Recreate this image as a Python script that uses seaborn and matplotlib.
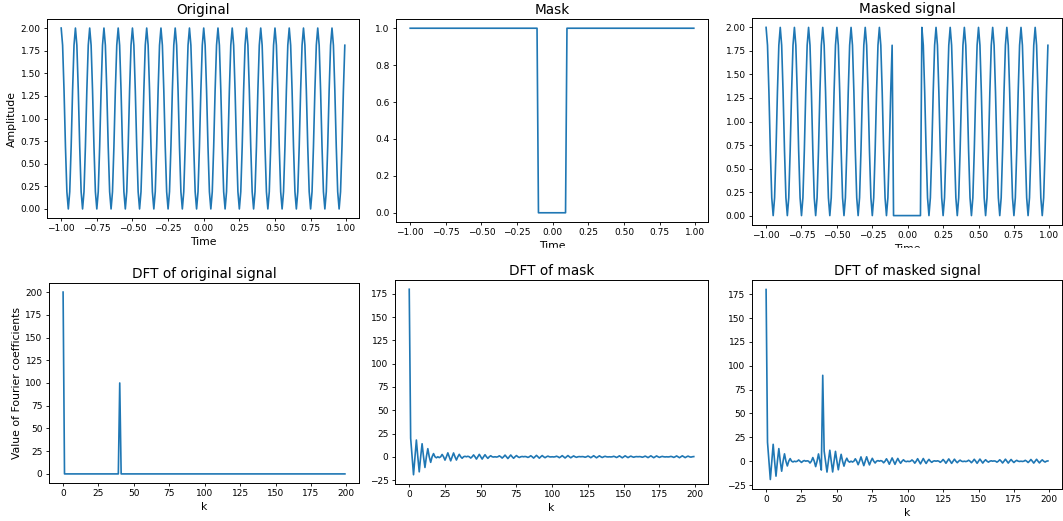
import numpy as np
import matplotlib
matplotlib.use("Agg")
import matplotlib.pyplot as plt
from matplotlib.patches import Rectangle
import seaborn as sns

# sample times and DFT index
time = np.round(np.arange(-1.0, 1.0, 0.01), 2)
k = np.arange(200)

# one period of the signal (10 samples)
cycle = [2.0, 1.81, 1.31, 0.69, 0.19, 0.0, 0.19, 0.69, 1.31, 1.81]
original = cycle * 20
mask = [1.0] * 90 + [0.0] * 20 + [1.0] * 90
masked = cycle * 9 + [0.0] * 20 + cycle * 9

dft_original = [200.0] + [0.0] * 39 + [100.0] + [0.0] * 159

dft_mask = [
    180, 19.9, 0, -19.3, 0, 18.0, 0, -16.2, 0, 14.0,
    0, -11.5, 0, 8.7, 0, -6.0, 0, 3.4, 0, -1.1,
    0, -0.9, 0, 2.5, 0, -3.6, 0, 4.2, 0, -4.4,
    0, 4.1, 0, -3.5, 0, 2.6, 0, -1.6, 0, 0.5,
    0, 0.5, 0, -1.4, 0, 2.0, 0, -2.5, 0, 2.6,
    0, -2.5, 0, 2.2, 0, -1.7, 0, 1.1, 0, -0.3,
    0, -0.3, 0, 1.0, 0, -1.4, 0, 1.8, 0, -1.9,
    0, 1.9, 0, -1.6, 0, 1.3, 0, -0.8, 0, 0.3,
    0, 0.3, 0, -0.7, 0, 1.1, 0, -1.4, 0, 1.5,
    0, -1.5, 0, 1.3, 0, -1.0, 0, 0.7, 0, -0.2,
    0, -0.2, 0, 0.6, 0, -1.0, 0, 1.2, 0, -1.3,
    0, 1.3, 0, -1.1, 0, 0.9, 0, -0.6, 0, 0.2,
    0, 0.2, 0, -0.5, 0, 0.8, 0, -1.0, 0, 1.1,
    0, -1.1, 0, 1.0, 0, -0.8, 0, 0.5, 0, -0.2,
    0, -0.2, 0, 0.5, 0, -0.8, 0, 1.0, 0, -1.1,
    0, 1.0, 0, -0.9, 0, 0.7, 0, -0.5, 0, 0.2,
    0, 0.2, 0, -0.5, 0, 0.7, 0, -0.9, 0, 1.0,
    0, -1.0, 0, 0.9, 0, -0.7, 0, 0.4, 0, -0.2,
    0, -0.2, 0, 0.4, 0, -0.7, 0, 0.9, 0, -1.0,
    0, 1.0, 0, -0.9, 0, 0.7, 0, -0.4, 0, 0.2,
]

dft_masked = [
    180, 19.9, 0, -19.2, 0, 17.7, 0, -15.7, 0, 13.2,
    0, -10.5, 0, 7.7, 0, -5.0, 0, 2.7, 0, -0.8,
    0, -0.5, 0, 1.3, 0, -1.3, 0, 0.7, 0, 0.4,
    0, -1.9, 0, 3.8, 0, -5.7, 0, 7.6, 0, -9.3,
    90, 10.6, 0, -11.4, 0, 11.5, 0, -11.3, 0, 10.3,
    0, -9.0, 0, 7.2, 0, -5.2, 0, 3.1, 0, -1.0,
    0, -0.9, 0, 2.5, 0, -3.7, 0, 4.5, 0, -4.7,
    0, 4.6, 0, -3.9, 0, 3.0, 0, -1.9, 0, 0.6,
    0, 0.6, 0, -1.7, 0, 2.5, 0, -3.2, 0, 3.4,
    0, -3.3, 0, 2.9, 0, -2.2, 0, 1.5, 0, -0.5,
    0, -0.4, 0, 1.3, 0, -2.1, 0, 2.6, 0, -2.8,
    0, 2.8, 0, -2.4, 0, 1.9, 0, -1.2, 0, 0.4,
    0, 0.4, 0, -1.2, 0, 1.8, 0, -2.2, 0, 2.4,
    0, -2.3, 0, 2.1, 0, -1.6, 0, 1.1, 0, -0.4,
    0, -0.4, 0, 1.0, 0, -1.6, 0, 2.0, 0, -2.2,
    0, 2.2, 0, -2.0, 0, 1.5, 0, -1.0, 0, 0.4,
    0, 0.3, 0, -1.0, 0, 1.5, 0, -1.9, 0, 2.1,
    0, -2.0, 0, 1.8, 0, -1.4, 0, 0.9, 0, -0.3,
    0, -0.3, 0, 0.9, 0, -1.4, 0, 1.8, 0, -2.0,
    0, 2.0, 0, -1.8, 0, 1.4, 0, -0.9, 0, 0.3,
]

plt.rcParams.update({
    "xtick.labelsize": 6.5,
    "ytick.labelsize": 6.5,
    "xtick.major.size": 2.4,
    "ytick.major.size": 2.4,
    "xtick.major.width": 0.6,
    "ytick.major.width": 0.6,
    "xtick.major.pad": 2.2,
    "ytick.major.pad": 2.2,
    "axes.linewidth": 0.7,
    "axes.labelsize": 7.8,
    "axes.labelpad": 2.5,
    "axes.titlesize": 9.8,
    "axes.titlepad": 3.5,
})

W, H = 1063, 521
fig = plt.figure(figsize=(W / 100, H / 100), dpi=100)


def box(x1, y1, x2, y2):
    # pixel box (top-left origin) -> figure fraction rect
    return [x1 / W, 1 - y2 / H, (x2 - x1) / W, (y2 - y1) / H]


panels = [
    (box(47, 19, 359, 218), time, original, "Original", "Time", "Amplitude"),
    (box(396, 19, 708, 222), time, mask, "Mask", "Time", None),
    (box(752, 18, 1062, 225), time, masked, "Masked signal", "Time", None),
    (box(49, 283, 359, 483), k, dft_original, "DFT of original signal", "k",
     "Value of Fourier coefficients"),
    (box(395, 280, 708, 484), k, dft_mask, "DFT of mask", "k", None),
    (box(752, 280, 1062, 489), k, dft_masked, "DFT of masked signal", "k", None),
]

for rect, x, y, title, xlab, ylab in panels:
    ax = fig.add_axes(rect)
    sns.lineplot(x=x, y=y, ax=ax, color="#1f77b4", linewidth=1.2)
    ax.set_title(title)
    ax.set_xlabel(xlab)
    if ylab:
        ax.set_ylabel(ylab)

# the top-row x labels are cut off in the reference
fig.add_artist(Rectangle((0, 1 - 258 / H), 1, 10.5 / H,
                         transform=fig.transFigure, color="white", zorder=10))

fig.savefig("out.png", dpi=100)
